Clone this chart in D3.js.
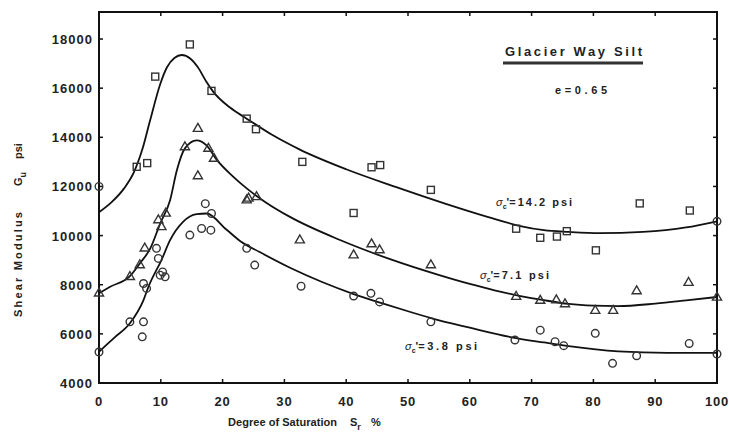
<!DOCTYPE html>
<html>
<head>
<meta charset="utf-8">
<script src="https://cdn.jsdelivr.net/npm/d3@7"></script>
<style>
  body { margin: 0; background: #fff; }
  text { font-family: "Liberation Sans", Arial, sans-serif; font-weight: bold; fill: #222; }
</style>
</head>
<body>
<script>
// axis ticks
const xTicks = [0, 10, 20, 30, 40, 50, 60, 70, 80, 90, 100];
const yTicks = [4000, 6000, 8000, 10000, 12000, 14000, 16000, 18000];

// measured points [Sr %, Gu psi]
const squarePts = [[6.1, 12800], [7.8, 12950], [9.1, 16470], [14.7, 17780], [18.2, 15890], [23.9, 14760],
  [25.4, 14330], [32.9, 13000], [41.2, 10920], [44.1, 12780], [45.5, 12870], [53.7, 11860], [67.5, 10280],
  [71.4, 9910], [74.1, 9960], [75.7, 10180], [80.4, 9400], [87.5, 11310], [95.6, 11020]];
const squareAxisPts = [[0, 12000], [100, 10580]];

const trianglePts = [[0, 7650], [5, 8320], [6.6, 8800], [7.4, 9480], [9.6, 10630], [10.1, 10350], [10.8, 10900],
  [13.9, 13600], [16, 14350], [16, 12420], [17.7, 13540], [18.6, 13130], [23.9, 11440], [24.2, 11510],
  [25.5, 11570], [32.5, 9810], [41.2, 9200], [44.1, 9650], [45.4, 9410], [53.7, 8800], [67.5, 7510],
  [71.4, 7350], [74, 7370], [75.4, 7210], [80.3, 6940], [83.2, 6940], [87, 7740], [95.4, 8080], [100, 7480]];

const circlePts = [[0, 5260], [5, 6490], [7, 5880], [7.2, 6490], [7.2, 8050], [7.7, 7850], [9.3, 9480],
  [9.6, 9070], [9.9, 8390], [10.3, 8520], [10.7, 8320], [14.7, 10020], [16.6, 10290], [17.2, 11300],
  [18.1, 10220], [18.2, 10900], [23.9, 9480], [25.2, 8800], [32.7, 7940], [41.2, 7540], [44, 7650],
  [45.4, 7300], [53.7, 6490], [67.3, 5750], [71.4, 6150], [73.8, 5680], [75.2, 5520], [80.3, 6020],
  [83.1, 4800], [87, 5110], [95.5, 5610], [100, 5180]];

// fitted curves
const curve142 = [[0, 10950], [2, 11350], [4, 11900], [5.6, 12550], [7, 13500], [8.25, 14670], [9.9, 16160],
  [11, 16850], [12.2, 17230], [13.4, 17350], [14.8, 17200], [16, 16850], [17.4, 16250], [18.5, 15850],
  [21.2, 15210], [23.9, 14760], [28, 14100], [32.5, 13500], [40, 12700], [48, 11980], [56, 11300],
  [63, 10750], [68, 10400], [72, 10220], [76, 10150], [81, 10100], [88, 10150], [95, 10330], [100, 10580]];
const curve71 = [[0, 7650], [1.8, 7914], [5, 8350], [6.6, 8866], [8.3, 9476], [9.9, 10490], [11.5, 11440],
  [12.6, 12659], [13.9, 13550], [15.8, 13878], [17.4, 13675], [19, 13100], [21.7, 12400], [24, 11900],
  [27, 11350], [30.9, 10760], [39, 9820], [47.1, 9040], [55.2, 8380], [60, 8030], [64, 7770], [68, 7550],
  [72, 7370], [76, 7220], [80, 7150], [84, 7130], [90, 7230], [95, 7360], [100, 7500]];
const curve38 = [[0, 5270], [2.5, 5850], [5, 6430], [7.2, 7374], [8, 7915], [10.1, 9000], [11.5, 9813],
  [13.6, 10557], [15.8, 10870], [17.4, 10898], [20.6, 10250], [23, 9750], [26, 9330], [31, 8680],
  [36, 8120], [41.2, 7620], [46, 7230], [50, 6920], [54, 6620], [60, 6250], [67, 5850], [72, 5650],
  [76, 5500], [84, 5290], [92, 5230], [100, 5230]];

const W = 729, H = 441;
const pLeft = 99, pRight = 717, pTop = 12, pBottom = 383;

const svg = d3.select('body').append('svg')
  .attr('width', W)
  .attr('height', H);

const x = d3.scaleLinear().domain([0, 100]).range([pLeft, pRight]);
const y = d3.scaleLinear().domain([4000, 19100]).range([pBottom, pTop]);

// frame
svg.append('rect')
  .attr('x', pLeft).attr('y', pTop)
  .attr('width', pRight - pLeft).attr('height', pBottom - pTop)
  .attr('fill', 'none').attr('stroke', '#111').attr('stroke-width', 2);

// inward ticks on all four sides
const tk = 4;
svg.append('g').selectAll('line').data(xTicks).join('line')
  .attr('x1', d => x(d)).attr('x2', d => x(d))
  .attr('y1', pBottom).attr('y2', pBottom - tk)
  .attr('stroke', '#111').attr('stroke-width', 1.5);
svg.append('g').selectAll('line').data(xTicks).join('line')
  .attr('x1', d => x(d)).attr('x2', d => x(d))
  .attr('y1', pTop).attr('y2', pTop + tk)
  .attr('stroke', '#111').attr('stroke-width', 1.5);
svg.append('g').selectAll('line').data(yTicks).join('line')
  .attr('x1', pLeft).attr('x2', pLeft + tk)
  .attr('y1', d => y(d)).attr('y2', d => y(d))
  .attr('stroke', '#111').attr('stroke-width', 1.5);
svg.append('g').selectAll('line').data(yTicks).join('line')
  .attr('x1', pRight).attr('x2', pRight - tk)
  .attr('y1', d => y(d)).attr('y2', d => y(d))
  .attr('stroke', '#111').attr('stroke-width', 1.5);

// tick labels
svg.append('g').selectAll('text').data(xTicks).join('text')
  .attr('x', d => x(d)).attr('y', 406)
  .attr('text-anchor', 'middle')
  .attr('font-size', 13).attr('letter-spacing', 0.8)
  .text(d => d);
svg.append('g').selectAll('text').data(yTicks).join('text')
  .attr('x', 93).attr('y', d => y(d) + 5)
  .attr('text-anchor', 'end')
  .attr('font-size', 13).attr('letter-spacing', 1)
  .text(d => d);

// axis titles
const xt = svg.append('text').attr('x', 228).attr('y', 426).attr('font-size', 11);
xt.append('tspan').text('Degree of Saturation').attr('textLength', 109);
xt.append('tspan').attr('x', 350).text('S');
xt.append('tspan').attr('dy', 4).attr('font-size', 9).text('r');
xt.append('tspan').attr('x', 371).attr('dy', -4).text('%');

const yt = svg.append('text')
  .attr('transform', 'translate(22,317) rotate(-90)')
  .attr('font-size', 11);
yt.append('tspan').attr('x', 0).text('Shear Modulus').attr('textLength', 105);
yt.append('tspan').attr('x', 131).text('G');
yt.append('tspan').attr('dy', 4).attr('font-size', 9).text('u');
yt.append('tspan').attr('x', 158).attr('dy', -4).text('psi');

// curves
const line = d3.line()
  .x(d => x(d[0])).y(d => y(d[1]))
  .curve(d3.curveMonotoneX);
[curve142, curve71, curve38].forEach(c => {
  svg.append('path').datum(c)
    .attr('d', line)
    .attr('fill', 'none')
    .attr('stroke', '#111')
    .attr('stroke-width', 1.8);
});

// markers
const mk = '#333';
svg.append('g').selectAll('rect').data(squarePts).join('rect')
  .attr('x', d => x(d[0]) - 3.5).attr('y', d => y(d[1]) - 3.5)
  .attr('width', 7).attr('height', 7)
  .attr('fill', 'none').attr('stroke', mk).attr('stroke-width', 1.4);

svg.append('g').selectAll('circle').data(squareAxisPts.concat(circlePts)).join('circle')
  .attr('cx', d => x(d[0])).attr('cy', d => y(d[1]))
  .attr('r', 3.8)
  .attr('fill', 'none').attr('stroke', mk).attr('stroke-width', 1.4);

const tri = d3.symbol().type(d3.symbolTriangle).size(36);
svg.append('g').selectAll('path').data(trianglePts).join('path')
  .attr('transform', d => `translate(${x(d[0])},${y(d[1])})`)
  .attr('d', tri)
  .attr('fill', 'none').attr('stroke', mk).attr('stroke-width', 1.4);

// legend text
svg.append('text').attr('x', 505).attr('y', 56)
  .attr('font-size', 13).attr('textLength', 137)
  .text('Glacier Way Silt');
svg.append('line')
  .attr('x1', 503).attr('x2', 643).attr('y1', 63).attr('y2', 63)
  .attr('stroke', '#333').attr('stroke-width', 3);
svg.append('text').attr('x', 555).attr('y', 94)
  .attr('font-size', 11).attr('textLength', 52)
  .text('e=0.65');

// stress labels
function stressLabel(px, py, val, len) {
  const t = svg.append('text').attr('x', px).attr('y', py).attr('font-size', 11);
  t.append('tspan').attr('font-style', 'italic').attr('font-weight', 'normal').text('σ');
  t.append('tspan').attr('dy', 3).attr('font-size', 7).text('c');
  t.append('tspan').attr('dy', -3).text("'");
  t.append('tspan').text('=' + val + ' psi').attr('textLength', len);
}
stressLabel(496, 206, '14.2', 63);
stressLabel(480, 279, '7.1', 56);
stressLabel(405, 350, '3.8', 59);
</script>
</body>
</html>
